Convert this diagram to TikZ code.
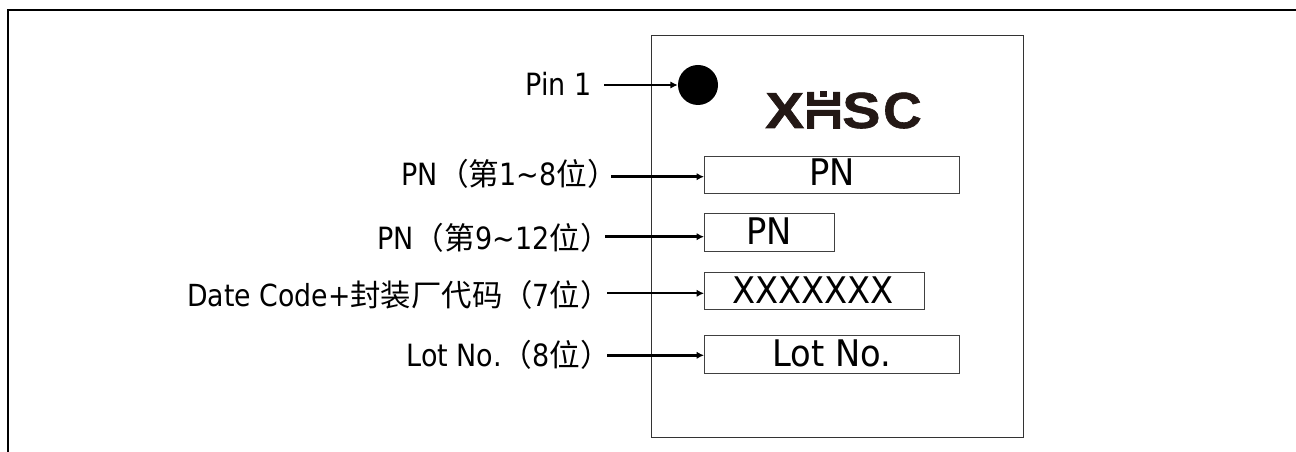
\documentclass[tikz,border=0pt]{standalone}
\usepackage{fontspec}
\usetikzlibrary{arrows.meta}
\setmainfont{DejaVu Sans}
\newfontfamily\labfont[FakeStretch=0.88]{DejaVu Sans}
\newfontfamily\fieldfont[FakeStretch=0.92]{DejaVu Sans}
\newfontfamily\cjk{Noto Sans CJK SC}
\newfontfamily\logofont[FakeBold=1.2]{Liberation Sans}
\newcommand{\zh}[1]{{\cjk #1}}
\definecolor{logoink}{HTML}{231815}
\tikzset{
  x=0.75pt,y=-0.75pt,
  lab/.style={anchor=base east,inner sep=0pt,font=\labfont\fontsize{23pt}{26pt}\selectfont},
  field/.style={draw=black!75,line width=0.7pt,fill=white,minimum height=27.8pt,inner sep=0pt,anchor=west},
  fieldtxt/.style={anchor=base,inner sep=0pt,font=\fieldfont\fontsize{27.5pt}{30pt}\selectfont},
  arr/.style={line width=1.8pt,-{Latex[length=5.5pt,width=5.5pt]}},
  logotxt/.style={inner sep=0pt,anchor=base west,text=logoink,font=\logofont\bfseries\fontsize{38pt}{40pt}\selectfont}
}
\begin{document}
\begin{tikzpicture}
\useasboundingbox (0,0) rectangle (1296,452);
\draw[line width=1.5pt] (8,452) -- (8,10) -- (1296,10);
\node[draw=black!80,line width=0.6pt,minimum width=279pt,minimum height=301pt,inner sep=0pt,anchor=north west] (chip) at (650.5,35.5) {};
\node[circle,fill=black,minimum size=30pt,inner sep=0pt] (dot) at (698,85) {};
\node[logotxt] (lx) at (765,128) {\scalebox{1.15}[1]{X}};
\node[logotxt] (ls) at (842,128) {\scalebox{1.13}[1]{S}};
\node[logotxt] (lc) at (883,128) {\scalebox{1.05}[1]{C}};
% logo H
\fill[logoink] (807,92)--(814,92)--(814,100)--(833,100)--(833,92)--(840,92)--(840,106)--(807,106)--cycle;
\fill[logoink] (820,91)--(827,91)--(827,97)--(820,97)--cycle;
\fill[logoink] (807,110)--(840,110)--(840,129)--(833,129)--(833,116)--(814,116)--(814,129)--(807,129)--cycle;
\node[field,minimum width=191.6pt] (f1) at (704,175) {};
\node[field,minimum width=97.5pt] (f2) at (704,232.5) {};
\node[field,minimum width=165pt] (f3) at (704,291) {};
\node[field,minimum width=191.6pt] (f4) at (704,354.5) {};
\node[fieldtxt] (t1) at (832,186) {PN};
\node[fieldtxt] (t2) at (769,245) {PN};
\node[fieldtxt] (t3) at (813,303.5) {XXXXXXX};
\node[fieldtxt] (t4) at (832,367) {Lot No.};
\node[lab] (l0) at (592,95.5) {Pin 1};
\node[lab] (l1) at (618,186) {PN\zh{（第}1\textasciitilde8\zh{位）}};
\node[lab] (l2) at (611,250) {PN\zh{（第}9\textasciitilde12\zh{位）}};
\node[lab,font=\labfont\fontsize{22.8pt}{26pt}\selectfont] (l3) at (611,307) {Date Code+\zh{封装厂代码（}7\zh{位）}};
\node[lab] (l4) at (611,366) {Lot No.\zh{（}8\zh{位）}};
\coordinate (s0) at (604,85);
\coordinate (s1) at (611,176.7);
\coordinate (s2) at (605,236.7);
\coordinate (s3) at (607,293.3);
\coordinate (s4) at (607,355.3);
\draw[arr] (s0) -- (s0 -| dot.west);
\draw[arr] (s1) -- (s1 -| f1.west);
\draw[arr] (s2) -- (s2 -| f2.west);
\draw[arr] (s3) -- (s3 -| f3.west);
\draw[arr] (s4) -- (s4 -| f4.west);
\end{tikzpicture}
\end{document}
